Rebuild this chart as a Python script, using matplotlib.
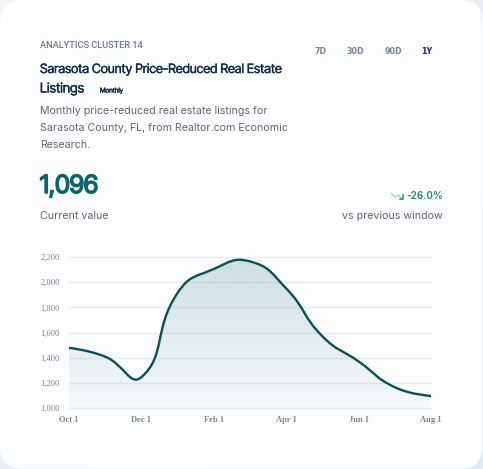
import matplotlib
matplotlib.use("Agg")
import matplotlib.pyplot as plt
import matplotlib.patheffects as pe
import numpy as np
from matplotlib.patches import FancyBboxPatch, PathPatch
from matplotlib.path import Path

WIDTH = 483
HEIGHT = 469

months = ["Oct 1", "Nov 1", "Dec 1", "Jan 1", "Feb 1", "Mar 1", "Apr 1", "May 1", "Jun 1", "Jul 1", "Aug 1"]
listings = [1478, 1408, 1245, 1915, 2105, 2165, 1950, 1570, 1370, 1165, 1096]
y_ticks = [1000, 1200, 1400, 1600, 1800, 2000, 2200]
x_tick_idx = [0, 2, 4, 6, 8, 10]
ranges = ["7D", "30D", "90D", "1Y"]
range_x = [321, 355.5, 393, 427]

NARROW = ["Inter Tight", "Roboto", "DejaVu Sans"]
BODY = ["Inter", "DejaVu Sans"]
TEAL = "#0b4f56"
GREY = "#62676f"


def px(size):
    # css pixels to points at dpi 100
    return size * 0.72


def heavy(width, color):
    # Inter Tight only comes in one weight here, so thicken it with a stroke
    return [pe.withStroke(linewidth=width, foreground=color)]


def smooth_path(pts, smooth=0.5):
    # bezier through the points, tangents split by the pixel length of each side
    n = len(pts)
    out_cp = pts.copy()
    in_cp = pts.copy()
    for i in range(1, n - 1):
        v = pts[i + 1] - pts[i - 1]
        d0 = np.hypot(*(pts[i] - pts[i - 1]))
        d1 = np.hypot(*(pts[i + 1] - pts[i]))
        in_cp[i] = pts[i] - v * smooth * d0 / (d0 + d1)
        out_cp[i] = pts[i] + v * smooth * d1 / (d0 + d1)
    verts = [tuple(pts[0])]
    codes = [Path.MOVETO]
    for i in range(n - 1):
        verts += [tuple(out_cp[i]), tuple(in_cp[i + 1]), tuple(pts[i + 1])]
        codes += [Path.CURVE4, Path.CURVE4, Path.CURVE4]
    return verts, codes


fig = plt.figure(figsize=(WIDTH / 100, HEIGHT / 100), dpi=100)

# page + card, in pixel coordinates
page = fig.add_axes([0, 0, 1, 1])
page.set_xlim(0, WIDTH)
page.set_ylim(HEIGHT, 0)
page.axis("off")
gx, gy = np.meshgrid(np.linspace(0, 1, 64), np.linspace(0, 1, 64))
t = (gx + gy) / 2
bg = np.dstack([0.945 - 0.06 * t, 0.965 - 0.05 * t, 0.985 - 0.03 * t])
page.imshow(bg, extent=[0, WIDTH, HEIGHT, 0], aspect="auto", zorder=0)
page.add_patch(FancyBboxPatch((0, 0), WIDTH - 0.5, HEIGHT - 0.5, boxstyle="round,pad=0,rounding_size=22",
                              fc="#fcfdff", ec="none", zorder=1))

page.text(40, 45.5, "ANALYTICS CLUSTER 14", family=["Roboto"], weight="medium", fontsize=px(9.3),
          color="#6b7a90", va="center", zorder=3)
page.text(40, 70, "Sarasota County Price-Reduced Real Estate", family=NARROW, fontsize=px(12.85),
          color="#14284b", va="center", zorder=3, path_effects=heavy(0.25, "#14284b"))
page.text(40, 88.5, "Listings", family=NARROW, fontsize=px(13.5), color="#14284b", va="center", zorder=3,
          path_effects=heavy(0.25, "#14284b"))
page.text(100, 90.5, "Monthly", family=NARROW, fontsize=px(6.6), color="#14284b", va="center", zorder=3,
          path_effects=heavy(0.3, "#14284b"))

desc = ["Monthly price-reduced real estate listings for",
        "Sarasota County, FL, from Realtor.com Economic",
        "Research."]
for line, y in zip(desc, [111, 128, 145]):
    page.text(40, y, line, family=BODY, fontsize=px(10.65), color=GREY, va="center", zorder=3)

for label, x in zip(ranges, range_x):
    active = label == "1Y"
    page.text(x, 51, label, family="DejaVu Sans", weight="bold", fontsize=px(8),
              color="#24324d" if active else "#76839a", ha="center", va="center", zorder=3)

page.text(40, 186.5, "1,096", family=NARROW, fontsize=px(25), color="#0c6468", va="center", zorder=3,
          path_effects=heavy(1.1, "#0c6468"))
page.text(40, 216, "Current value", family=BODY, fontsize=px(10.65), color=GREY, va="center", zorder=3)
page.text(443, 196, "-26.0%", family=BODY, weight="semibold", fontsize=px(10), color="#1f8a5f",
          ha="right", va="center", zorder=3)
page.text(443, 216, "vs previous window", family=BODY, fontsize=px(10.65), color=GREY,
          ha="right", va="center", zorder=3)

# little trend-down icon
page.plot([391.5, 395, 398, 402], [193.5, 197, 195, 199], color="#a9d8c4", lw=1.1, zorder=3)
page.plot([403, 403, 399.5], [195.5, 199, 199], color="#1f8a5f", lw=1.1, zorder=3)

# chart area
left, right, top, bottom = 69, 431, 257, 408
ax = fig.add_axes([left / WIDTH, 1 - bottom / HEIGHT, (right - left) / WIDTH, (bottom - top) / HEIGHT])
ax.patch.set_alpha(0)
ax.set_xlim(0, len(months) - 1)
ax.set_ylim(1000, 2200)
for s in ax.spines.values():
    s.set_visible(False)

for v in y_ticks:
    ax.axhline(v, color="#e9ecf1", lw=1, zorder=1, clip_on=False)

ax.set_yticks(y_ticks, [f"{v:,}" for v in y_ticks])
ax.set_xticks(x_tick_idx, [months[i] for i in x_tick_idx])
ax.tick_params(axis="y", length=0, pad=6.5, labelsize=px(8.5), labelcolor="#7d8590")
ax.tick_params(axis="x", length=0, pad=6, labelsize=px(8.5), labelcolor="#7d8590")
for lab in ax.get_yticklabels():
    lab.set_family("Liberation Serif")
for lab in ax.get_xticklabels():
    lab.set_family("Liberation Serif")
    lab.set_weight("bold")

xs = np.arange(len(listings))
pts = np.column_stack([xs, listings]).astype(float)
# smoothing is done in pixels, then mapped back to data space
verts_px, codes = smooth_path(ax.transData.transform(pts))
verts = [tuple(v) for v in ax.transData.inverted().transform(verts_px)]

# gradient under the curve
fill_verts = verts + [(xs[-1], 1000), (xs[0], 1000), (xs[0], listings[0])]
fill_codes = codes + [Path.LINETO, Path.LINETO, Path.CLOSEPOLY]
clip = PathPatch(Path(fill_verts, fill_codes), transform=ax.transData, fc="none", ec="none")
ax.add_patch(clip)
grad = np.zeros((64, 2, 4))
grad[..., :3] = matplotlib.colors.to_rgb("#0f666a")
grad[..., 3] = np.linspace(0.2, 0.03, 64)[:, None]
im = ax.imshow(grad, extent=[0, len(months) - 1, 1000, 2200], origin="upper", aspect="auto", zorder=2)
im.set_clip_path(clip)

ax.add_patch(PathPatch(Path(verts, codes), fc="none", ec=TEAL, lw=1.7, capstyle="round", zorder=4))

fig.savefig("out.png", dpi=100)
